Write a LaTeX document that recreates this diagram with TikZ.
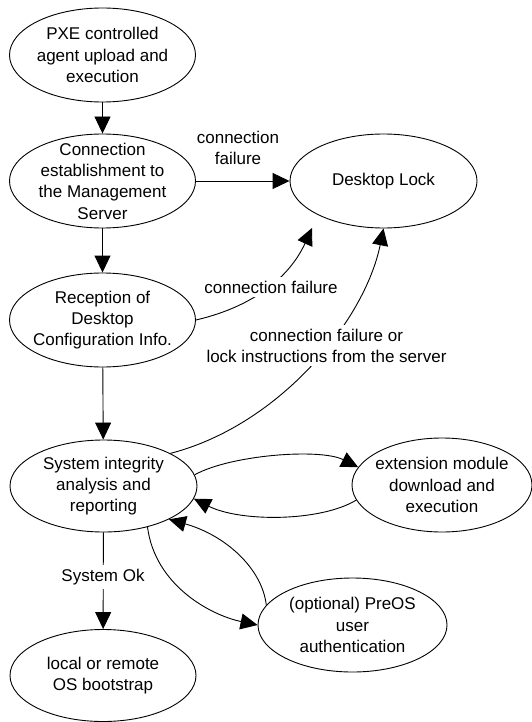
\documentclass[tikz,border=0pt]{standalone}
\usepackage{fontspec}
\setmainfont{Liberation Sans}
\usetikzlibrary{shapes.geometric,arrows.meta}
\begin{document}
\begin{tikzpicture}[x=1pt,y=-1pt, line width=0.9pt,
 state/.style={ellipse, draw, minimum width=186pt, minimum height=94pt, inner sep=0pt},
 txt/.style={align=center, inner sep=0pt, font=\fontsize{17}{21.3}\selectfont},
 lbl/.style={align=center, fill=white, inner sep=4pt, font=\fontsize{17}{21}\selectfont},
 arr/.style={-{Triangle[length=17pt,width=16pt]}},
]
\useasboundingbox (0,0) rectangle (532,722);

\node[state] (pxe) at (102.5,55) {};
\node[txt] (pxe-t) at (pxe) {PXE controlled\\agent upload and\\execution};
\node[state] (conn) at (102.5,181) {};
\node[txt] (conn-t) at (conn) {Connection\\establishment to\\the Management\\Server};
\node[state, minimum width=187pt] (lock) at (383.5,181) {};
\node[txt] (lock-t) at (lock) {Desktop Lock};
\node[state] (rec) at (102.5,320) {};
\node[txt] (rec-t) at (rec) {Reception of\\Desktop\\Configuration Info.};
\node[state, minimum width=187pt, minimum height=92pt] (sys) at (103.5,486) {};
\node[txt] (sys-t) at (sys) {System integrity\\analysis and\\reporting};
\node[state, minimum width=180pt] (ext) at (442,485) {};
\node[txt] (ext-t) at (ext) {extension module\\download and\\execution};
\node[state, minimum width=189pt] (preos) at (352.5,625) {};
\node[txt] (preos-t) at (preos) {(optional) PreOS\\user\\authentication};
\node[state, minimum height=92pt] (local) at (103,675.5) {};
\node[txt] (local-t) at (local) {local or remote\\OS bootstrap};

\coordinate (lockA) at (312,228);

\draw[arr] (pxe) -- (conn);
\draw[arr] (conn.east) -- (lock.west);
\draw[arr] (conn) -- (rec);
\draw[arr] (rec) -- (sys);
\draw[arr] (sys) -- (local);
\draw[arr] (rec.east) .. controls (260,305) and (292,272) .. (lockA);
\draw[arr] (sys.26) .. controls (280,425) and (365,320) .. (lock.south);
\draw[arr] (sys.7) .. controls (230,455) and (320,448) .. (ext.168);
\draw[arr] (ext.190) .. controls (320,522) and (240,522) .. (sys.-8);
\draw[arr] (sys.-43) .. controls (155,585) and (210,615) .. (preos.west);
\draw[arr] (preos.167) .. controls (262,568) and (225,535) .. (sys.-27);

\node[lbl] (l1) at (238,148) {connection\\failure};
\node[lbl] (l2) at (271,287) {connection failure};
\node[lbl] (l3) at (326.5,345.5) {connection failure or\\lock instructions from the server};
\node[lbl] (l4) at (103,577) {System Ok};
\end{tikzpicture}
\end{document}
